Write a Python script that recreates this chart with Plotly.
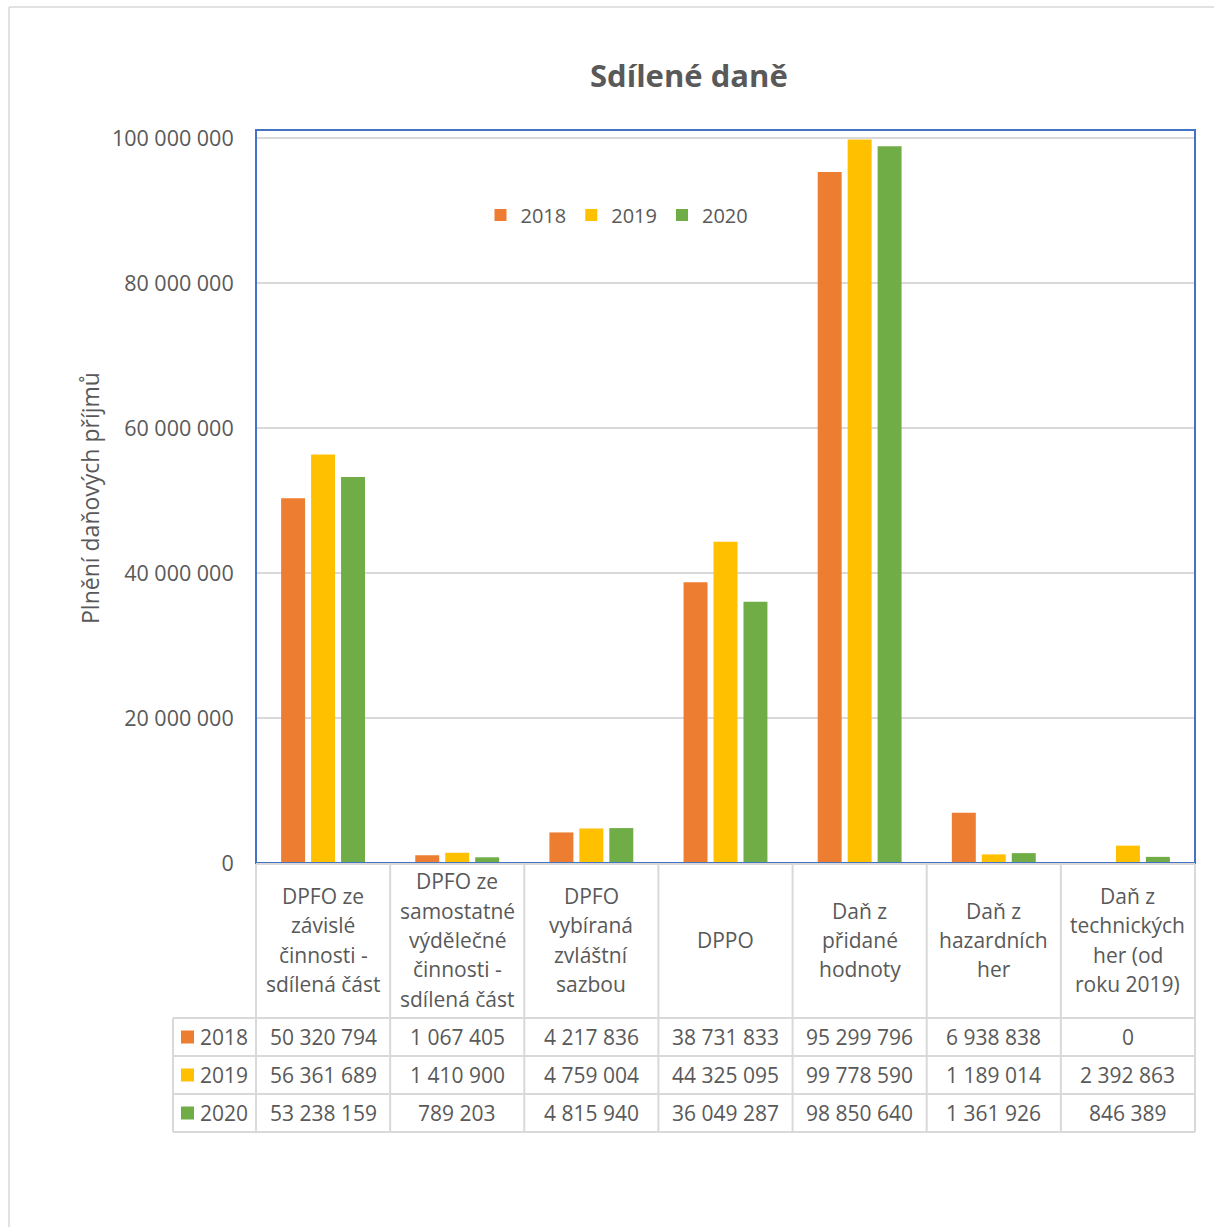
import plotly.graph_objects as go

# ---------------- data ----------------
category_lines = [
    ["DPFO ze", "závislé", "činnosti -", "sdílená část"],
    ["DPFO ze", "samostatné", "výdělečné", "činnosti -", "sdílená část"],
    ["DPFO", "vybíraná", "zvláštní", "sazbou"],
    ["DPPO"],
    ["Daň z", "přidané", "hodnoty"],
    ["Daň z", "hazardních", "her"],
    ["Daň z", "technických", "her (od", "roku 2019)"],
]
categories = [" ".join(l) for l in category_lines]

series_names = ["2018", "2019", "2020"]
values_2018 = [50320794, 1067405, 4217836, 38731833, 95299796, 6938838, 0]
values_2019 = [56361689, 1410900, 4759004, 44325095, 99778590, 1189014, 2392863]
values_2020 = [53238159, 789203, 4815940, 36049287, 98850640, 1361926, 846389]
series_values = [values_2018, values_2019, values_2020]
series_colors = ["#ED7D31", "#FFC000", "#70AD47"]

y_tick_vals = [0, 20000000, 40000000, 60000000, 80000000, 100000000]
y_tick_text = ["0", "20 000 000", "40 000 000", "60 000 000", "80 000 000", "100 000 000"]

title_text = "Sdílené daně"
y_title = "Plnění daňových příjmů"

# ---------------- layout geometry (pixels) ----------------
W, H = 1214, 1227
PL, PR, PT, PB = 256, 1195, 131, 863  # plot area
FONT = "Open Sans, Noto Sans, sans-serif"
TXT = "#595959"
GRID = "#d9d9d9"
TSIZE = 21


def px(x):
    return (x - PL) / (PR - PL)


def py(y):
    return (PB - y) / (PB - PT)


fig = go.Figure()
for name, vals, col in zip(series_names, series_values, series_colors):
    fig.add_trace(go.Bar(x=categories, y=vals, name=name, marker=dict(color=col, line=dict(width=0))))

shapes = []
annotations = []

# outer chart border (top & left visible)
shapes.append(dict(type="line", xref="paper", yref="paper", x0=px(9), x1=px(1214), y0=py(7), y1=py(7),
                   line=dict(color=GRID, width=1.5)))
shapes.append(dict(type="line", xref="paper", yref="paper", x0=px(9), x1=px(9), y0=py(7), y1=py(1227),
                   line=dict(color=GRID, width=1.5)))

# blue selection border of plot area
shapes.append(dict(type="rect", xref="paper", yref="paper", x0=0, x1=1, y0=0, y1=py(130),
                   line=dict(color="#4472C4", width=2), layer="above"))

# data table
ncat = len(categories)
col_edges = [PL + i * (PR - PL) / ncat for i in range(ncat + 1)]
row_edges = [1018, 1056, 1094, 1132]
LEG_L = 173
tline = dict(color=GRID, width=2)
shapes.append(dict(type="line", xref="paper", yref="paper", x0=0, x1=1, y0=py(864), y1=py(864), line=tline, layer="above"))
for ye in row_edges:
    shapes.append(dict(type="line", xref="paper", yref="paper", x0=px(LEG_L), x1=1, y0=py(ye), y1=py(ye), line=tline))
for xe in col_edges:
    shapes.append(dict(type="line", xref="paper", yref="paper", x0=px(xe), x1=px(xe), y0=py(864), y1=py(1132), line=tline))
shapes.append(dict(type="line", xref="paper", yref="paper", x0=px(LEG_L), x1=px(LEG_L), y0=py(1018), y1=py(1132), line=tline))

# category headers
LSP = 29.4
for i, lines in enumerate(category_lines):
    cx = (col_edges[i] + col_edges[i + 1]) / 2
    n = len(lines)
    for j, t in enumerate(lines):
        yy = 940 + (j - (n - 1) / 2) * LSP
        annotations.append(dict(x=px(cx), y=py(yy), xref="paper", yref="paper", text=t, showarrow=False,
                                xanchor="center", yanchor="middle", font=dict(family=FONT, size=TSIZE, color=TXT)))

# rows
for r, (name, vals, col) in enumerate(zip(series_names, series_values, series_colors)):
    yc = (row_edges[r] + row_edges[r + 1]) / 2
    shapes.append(dict(type="rect", xref="paper", yref="paper", x0=px(181), x1=px(194), y0=py(yc - 6.5), y1=py(yc + 6.5),
                       fillcolor=col, line=dict(width=0)))
    annotations.append(dict(x=px(198), y=py(yc), xref="paper", yref="paper", text=name, showarrow=False,
                            xanchor="left", yanchor="middle", font=dict(family=FONT, size=TSIZE, color=TXT)))
    for i, v in enumerate(vals):
        cx = (col_edges[i] + col_edges[i + 1]) / 2
        annotations.append(dict(x=px(cx), y=py(yc), xref="paper", yref="paper", text=f"{v:,}".replace(",", " "),
                                showarrow=False, xanchor="center", yanchor="middle",
                                font=dict(family=FONT, size=TSIZE, color=TXT)))

# y axis title
annotations.append(dict(x=px(90), y=py(498), xref="paper", yref="paper", text=y_title, textangle=-90,
                        showarrow=False, xanchor="center", yanchor="middle", font=dict(family=FONT, size=23, color=TXT)))
# chart title
annotations.append(dict(x=px(689), y=py(75), xref="paper", yref="paper", text=f"<b>{title_text}</b>",
                        showarrow=False, xanchor="center", yanchor="middle", font=dict(family=FONT, size=31, color=TXT)))

fig.update_layout(
    width=W, height=H,
    margin=dict(l=PL, r=W - PR, t=PT, b=H - PB, pad=0),
    paper_bgcolor="white", plot_bgcolor="white",
    barmode="group", bargap=0.33, bargroupgap=0.2,
    showlegend=True,
    legend=dict(orientation="h", x=px(617), xanchor="center", y=py(215), yanchor="middle",
                font=dict(family=FONT, size=20, color=TXT), bgcolor="rgba(0,0,0,0)",
                itemwidth=30, tracegroupgap=0),
    xaxis=dict(showticklabels=False, showgrid=False, zeroline=False, showline=False, fixedrange=True),
    yaxis=dict(range=[0, 100000000 * (PB - PT) / (PB - 138)], tickvals=y_tick_vals, ticktext=y_tick_text,
               showgrid=True, gridcolor=GRID, gridwidth=1.5, zeroline=False, showline=False,
               ticks="outside", ticklen=17, tickcolor="rgba(0,0,0,0)",
               tickfont=dict(family=FONT, size=21.5, color=TXT)),
    shapes=shapes, annotations=annotations,
    font=dict(family=FONT, color=TXT),
)

fig.write_html("out.html", config={"displayModeBar": False}, post_script="document.body.style.margin='0';")
